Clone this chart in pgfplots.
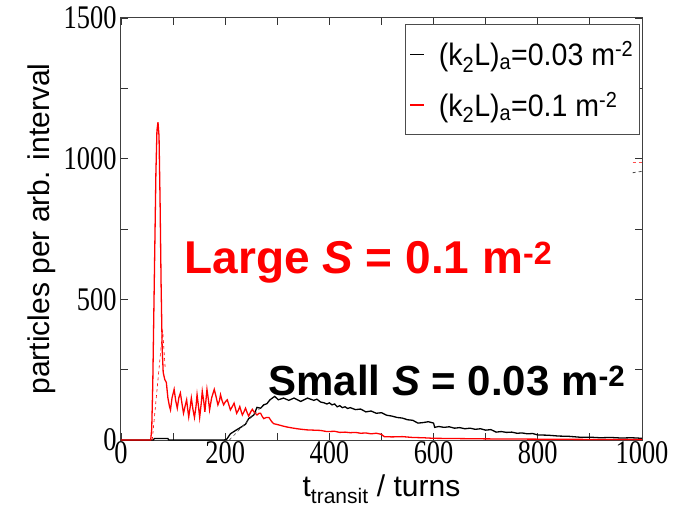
\documentclass[border=0pt]{standalone}
\usepackage{fontspec}
\setmainfont{Liberation Sans}
\newfontfamily\tickfont[FakeStretch=0.8]{Liberation Serif}
\newfontfamily\legfont[FakeStretch=0.92]{Liberation Sans}
\usepackage{pgfplots}
\pgfplotsset{compat=1.18}

\begin{document}
\begin{tikzpicture}
\begin{axis}[
  at={(0,0)}, anchor=south west,
  scale only axis, width=521pt, height=422pt,
  xmin=0, xmax=1000, ymin=0, ymax=1500,
  xtick={0,200,...,1000}, ytick={0,500,1000,1500},
  minor x tick num=1, minor y tick num=1,
  tick align=inside, major tick length=7pt, minor tick length=7pt,
  tick style={black!80, line width=0.8pt},
  axis line style={black!75, line width=1pt},
  /pgf/number format/assume math mode=true,
  /pgf/number format/1000 sep={},
  ticklabel style={font=\fontsize{33}{33}\tickfont},
  xticklabel style={yshift=2pt},
  yticklabel style={xshift=-1pt},
  xlabel={t\textsubscript{transit} / turns},
  ylabel={particles per arb. interval},
  label style={font=\fontsize{30}{30}\selectfont},
  xlabel style={at={(axis description cs:0.5,-0.135)}, anchor=base},
  ylabel style={at={(axis description cs:-0.152,0.5)}, anchor=center},
  legend style={at={(0.996,0.986)}, anchor=north east, draw=black!70,
                line width=1.2pt, font=\fontsize{31}{31}\legfont,
                inner xsep=4pt, inner ysep=15pt, row sep=21pt,
                /tikz/every odd column/.append style={column sep=12pt}},
  legend image code/.code={\draw[#1] (0pt,0pt) -- (14pt,0pt);},
  legend cell align=left,
  clip=false,
]
% black curve: (k2L)a = 0.03
\addplot[black, line width=1.3pt] coordinates {
(0,0) (62,0) (64,5) (90,5) (92,0) (198,0) (203,3) (210,22) (220,34) (229,44)
(239,56) (245,76) (255,89) (261,116) (268,113) (274,125) (280,129) (286,143) (295,155) (302,143)
(312,149) (322,141) (332,149) (345,137) (358,149) (370,141) (376,145) (383,135) (390,132) (395,128)
(400,132) (405,125) (410,128) (415,118) (420,122) (425,115) (430,118) (435,112) (440,115) (450,108)
(460,110) (470,100) (480,103) (490,95) (500,97) (510,88) (520,85) (530,80) (540,78) (550,72)
(560,70) (570,60) (580,62) (590,65) (600,60) (602,45) (610,48) (620,45) (630,47) (640,42)
(650,44) (660,40) (670,42) (680,38) (690,40) (700,35) (710,37) (720,28) (730,30) (740,27)
(750,28) (760,24) (770,25) (780,22) (790,23) (800,18) (820,17) (840,14) (860,13) (880,10)
(900,10) (920,8) (940,9) (960,7) (980,8) (1000,6)};
\addlegendentry{(k\textsubscript{2}L)\textsubscript{a}=0.03 m\textsuperscript{-2}}
% red curve: (k2L)a = 0.1
\addplot[red, line width=1.3pt] coordinates {
(0,0) (57,0) (59,40) (61,200) (63,450) (65,700) (67,950) (69,1100) (71,1130) (73,1080)
(75,850) (77,550) (79,330) (81,240) (84,215) (87,205) (90,150) (93,120) (95,107) (98,150)
(102,180) (105,140) (108,113) (111,150) (114,167) (117,130) (120,95) (123,120) (126,143) (128,110)
(130,82) (133,120) (135,149) (138,110) (141,80) (144,120) (146,161) (149,115) (151,80) (154,130)
(156,173) (159,135) (161,100) (163,140) (165,180) (168,140) (170,107) (174,150) (179,180) (183,150)
(186,125) (189,140) (191,161) (194,140) (197,125) (200,135) (204,143) (207,125) (210,107) (214,120)
(217,131) (220,110) (222,95) (225,105) (228,119) (231,100) (233,89) (236,100) (239,113) (242,98)
(245,85) (249,100) (252,109) (256,98) (261,89) (265,95) (268,95) (271,84) (274,76) (279,80)
(284,80) (289,66) (293,58) (300,55) (306,52) (312,49) (319,46) (328,43) (338,40) (347,38)
(357,36) (370,35) (383,34) (395,30) (410,31) (420,27) (430,28) (440,26) (450,27) (460,24)
(470,25) (480,22) (490,24) (500,20) (505,12) (520,11) (540,12) (560,9) (580,8) (600,6)
(650,5) (700,4) (800,3) (900,2) (1000,2)};
\addlegendentry{(k\textsubscript{2}L)\textsubscript{a}=0.1 m\textsuperscript{-2}}
% thin dashed fits
\addplot[red, dashed, line width=0.6pt, forget plot] coordinates {(60,0) (80,390) (85,250)};
\addplot[black!70, dashed, line width=0.6pt, forget plot] coordinates {(208,0) (268,115)};
\addplot[red!70, dashed, line width=0.8pt, forget plot] coordinates {(982,988) (1000,988)};
\addplot[black!70, dashed, line width=0.8pt, forget plot] coordinates {(982,950) (1000,955)};

\node[anchor=west, text=red, font=\fontsize{46}{46}\selectfont\bfseries]
  at (axis cs:115,633) {Large \textit{S} = 0.1 m\textsuperscript{-2}};
\node[anchor=west, text=black, font=\fontsize{42}{42}\selectfont\bfseries]
  at (axis cs:276,210) {Small \textit{S} = 0.03 m\textsuperscript{-2}};
\end{axis}
\useasboundingbox (-121pt,-72pt) rectangle (568pt,440pt);
\end{tikzpicture}
\end{document}
